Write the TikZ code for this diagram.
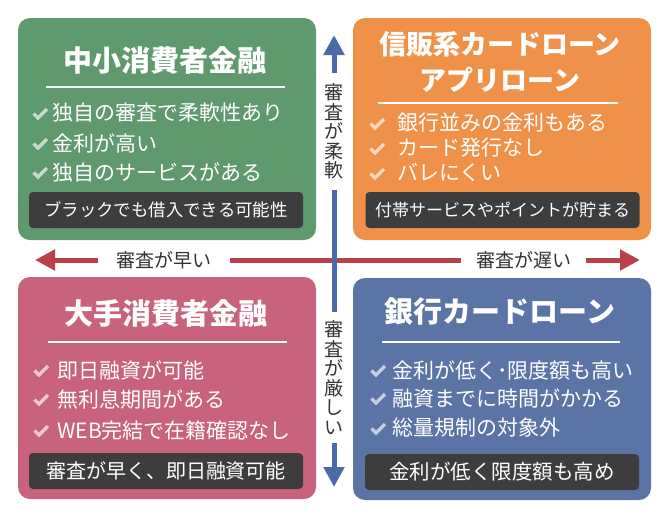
\documentclass[tikz,border=0pt]{standalone}
\usepackage{fontspec}
\setmainfont{Noto Sans CJK JP}
\usetikzlibrary{arrows.meta, positioning}
\definecolor{loanG}{HTML}{5F996E}
\definecolor{loanO}{HTML}{F0914A}
\definecolor{loanP}{HTML}{C9627D}
\definecolor{loanB}{HTML}{5A74A6}
\definecolor{barGray}{HTML}{3D3D3D}
\definecolor{axisRed}{HTML}{B9414B}
\definecolor{axisBlue}{HTML}{4A6AAA}
\definecolor{axisText}{HTML}{333333}
\colorlet{tintG}{loanG!35!white}
\colorlet{tintO}{loanO!35!white}
\colorlet{tintP}{loanP!35!white}
\colorlet{tintB}{loanB!35!white}
\tikzstyle{box}=[rectangle, rounded corners=12pt, minimum width=298pt, minimum height=222pt, inner sep=0pt]
\tikzstyle{title}=[text=white, font=\bfseries\fontsize{29}{36}\selectfont, inner sep=0pt, align=center]
\tikzstyle{item}=[anchor=west, text=white, font=\fontsize{21}{24}\selectfont, inner sep=0pt]
\tikzstyle{bar}=[rectangle, rounded corners=4pt, fill=barGray, text=white, minimum width=274pt, minimum height=36pt, inner sep=0pt]
\tikzstyle{rule}=[white, line width=2pt]
\tikzstyle{axlabel}=[text=axisText, font=\fontsize{19}{19.5}\selectfont, align=center]
\tikzstyle{haxis}=[axisRed, line width=5pt]
\tikzstyle{vaxis}=[axisBlue, line width=5pt]
\tikzset{tick/.pic={\draw[line width=3.4pt] (-6.5,-0.5) -- (-2,4) -- (7,-5);}}

\begin{document}
\begin{tikzpicture}[x=1pt, y=-1pt, >={Triangle[length=20pt, width=20pt]}]
	\useasboundingbox (0,0) rectangle (670,520);

	% Horizontal axis: speed of screening
	\coordinate (hleft) at (35,260);
	\coordinate (hright) at (640,260);
	\node[axlabel, inner xsep=18pt] (fast) at (164,260) {審査が早い};
	\node[axlabel, inner xsep=15pt] (slow) at (523.5,260) {審査が遅い};
	\draw[haxis, ->] (fast.west) -- (hleft);
	\draw[haxis] (fast.east) -- (slow.west);
	\draw[haxis, ->] (slow.east) -- (hright);

	% Vertical axis: strictness of screening
	\coordinate (vtop) at (334,35);
	\coordinate (vbot) at (334,487);
	\node[axlabel, inner ysep=11pt] (soft) at (334,131.5) {審\\査\\が\\柔\\軟};
	\node[axlabel, inner ysep=8pt] (strict) at (334,377.5) {審\\査\\が\\厳\\し\\い};
	\draw[vaxis, ->] (soft.north) -- (vtop);
	\draw[vaxis] (soft.south) -- (strict.north);
	\draw[vaxis, ->] (strict.south) -- (vbot);

	% Boxes
	\node[box, fill=loanG] (gbox) at (167,129) {};
	\node[box, fill=loanO] (obox) at (502,129) {};
	\node[box, fill=loanP] (pbox) at (167,388) {};
	\node[box, fill=loanB] (bbox) at (502,389) {};

	% Titles
	\node[title] (gtitle) at (165,60) {中小消費者金融};
	\node[title, font=\bfseries\fontsize{27}{36}\selectfont] (otitle) at (500,62) {信販系カードローン\\アプリローン};
	\node[title] (ptitle) at (166,313) {大手消費者金融};
	\node[title] (btitle) at (500,312) {銀行カードローン};

	\draw[rule] (46,87) -- (285,87);
	\draw[rule] (378,103) -- (618,103);
	\draw[rule] (48,342) -- (287,342);
	\draw[rule] (382,342) -- (620,342);

	% Points
	\foreach \y/\t [count=\i] in {113/独自の審査で柔軟性あり, 143/金利が高い, 172/独自のサービスがある}{
		\pic[tintG] (gc\i) at (40,\y+1) {tick};
		\node[item] (gi\i) at (52,\y) {\t};
	}
	\foreach \y/\t [count=\i] in {123/銀行並みの金利もある, 148/カード発行なし, 173/バレにくい}{
		\pic[tintO] (oc\i) at (377,\y+1) {tick};
		\node[item] (oi\i) at (397,\y) {\t};
	}
	\foreach \y/\t [count=\i] in {370/即日融資が可能, 399/無利息期間がある, 430/WEB完結で在籍確認なし}{
		\pic[tintP] (pc\i) at (41,\y+1) {tick};
		\node[item] (pi\i) at (57,\y) {\t};
	}
	\foreach \y/\t [count=\i] in {370/金利が低く･限度額も高い, 398/融資までに時間がかかる, 428/総量規制の対象外}{
		\pic[tintB] (bc\i) at (378,\y+1) {tick};
		\node[item] (bi\i) at (392,\y) {\t};
	}

	% Summary bars
	\node[bar, font=\fontsize{17.4}{20}\selectfont] (gbar) at (166,210) {ブラックでも借入できる可能性};
	\node[bar, font=\fontsize{17}{20}\selectfont] (obar) at (502.5,210) {付帯サービスやポイントが貯まる};
	\node[bar, font=\fontsize{20}{22}\selectfont] (pbar) at (166,471) {審査が早く、即日融資可能};
	\node[bar, font=\fontsize{20.5}{22}\selectfont] (bbar) at (502,472) {金利が低く限度額も高め};
\end{tikzpicture}
\end{document}
